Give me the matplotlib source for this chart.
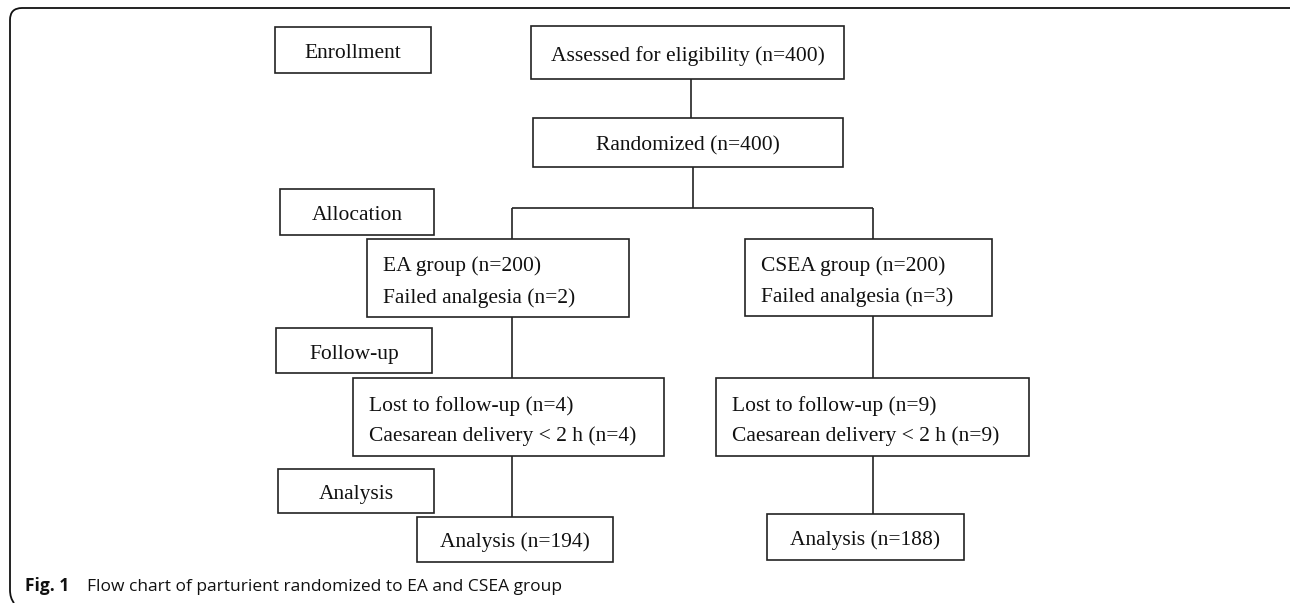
import matplotlib.pyplot as plt
from matplotlib.patches import Rectangle, PathPatch
from matplotlib.path import Path

# counts shown in the flow chart
n_assessed = 400
n_randomized = 400
group_names = ['EA', 'CSEA']
n_group = [200, 200]
n_failed = [2, 3]
n_lost = [4, 9]
n_caesarean = [4, 9]
n_analysed = [194, 188]

stage_labels = ['Enrollment', 'Allocation', 'Follow-up', 'Analysis']
caption_bold = 'Fig. 1'
caption_text = 'Flow chart of parturient randomized to EA and CSEA group'

W, H = 1290, 603
fig = plt.figure(figsize=(W / 100, H / 100), dpi=100)
ax = fig.add_axes([0, 0, 1, 1])
ax.set_xlim(0, W)
ax.set_ylim(H, 0)
ax.axis('off')

ink = '#222222'
lw = 1.2
serif = 'Liberation Serif'
fs = 15.5


def box(x0, y0, x1, y1, lines=None, center=False):
    ax.add_patch(Rectangle((x0, y0), x1 - x0, y1 - y0, fill=False,
                           edgecolor=ink, linewidth=lw))
    if lines is None:
        return
    ym = (y0 + y1) / 2
    if center:
        ax.text((x0 + x1) / 2, ym + 8, lines[0], ha='center', va='baseline',
                family=serif, fontsize=fs, color='#111111')
    else:
        step = 31
        start = ym + 2 - step * (len(lines) - 1) / 2
        for i, s in enumerate(lines):
            ax.text(x0 + 16, start + i * step + 7, s, ha='left', va='baseline',
                    family=serif, fontsize=fs, color='#111111')


def line(xs, ys):
    ax.plot(xs, ys, color=ink, linewidth=lw, solid_capstyle='butt')


# outer frame: top and left edges with rounded corners
r = 12
verts = [(W + 5, 8), (10 + r, 8), (10, 8), (10, 8 + r), (10, 590), (10, 598), (14, 603)]
codes = [Path.MOVETO, Path.LINETO, Path.CURVE3, Path.CURVE3, Path.LINETO,
         Path.CURVE3, Path.CURVE3]
ax.add_patch(PathPatch(Path(verts, codes), fill=False, edgecolor='#111111', linewidth=1.3))

# stage label boxes
box(275, 27, 431, 73, [stage_labels[0]], center=True)
box(280, 189, 434, 235, [stage_labels[1]], center=True)
box(276, 328, 432, 373, [stage_labels[2]], center=True)
box(278, 469, 434, 513, [stage_labels[3]], center=True)

# main flow
box(531, 26, 844, 79, [f'Assessed for eligibility (n={n_assessed})'], center=True)
line([691, 691], [79, 118])
box(533, 118, 843, 167, [f'Randomized (n={n_randomized})'], center=True)
line([693, 693], [167, 208])
line([512, 873], [208, 208])

cols = [
    dict(cx=512, grp=(367, 239, 629, 317), lost=(353, 378, 664, 456), ana=(417, 517, 613, 562)),
    dict(cx=873, grp=(745, 239, 992, 316), lost=(716, 378, 1029, 456), ana=(767, 514, 964, 560)),
]
for i, c in enumerate(cols):
    cx = c['cx']
    g, lo, an = c['grp'], c['lost'], c['ana']
    line([cx, cx], [208, g[1]])
    box(*g, [f'{group_names[i]} group (n={n_group[i]})',
             f'Failed analgesia (n={n_failed[i]})'])
    line([cx, cx], [g[3], lo[1]])
    box(*lo, [f'Lost to follow-up (n={n_lost[i]})',
              f'Caesarean delivery < 2 h (n={n_caesarean[i]})'])
    line([cx, cx], [lo[3], an[1]])
    box(*an, [f'Analysis (n={n_analysed[i]})'], center=True)

# caption
ax.text(25, 591, caption_bold, ha='left', va='baseline', fontsize=12.5,
        fontweight='bold', family='Open Sans', color='#111111')
ax.text(87, 591, caption_text, ha='left', va='baseline', fontsize=12.5,
        family='Open Sans', color='#111111')

fig.savefig('out.png', dpi=100)
